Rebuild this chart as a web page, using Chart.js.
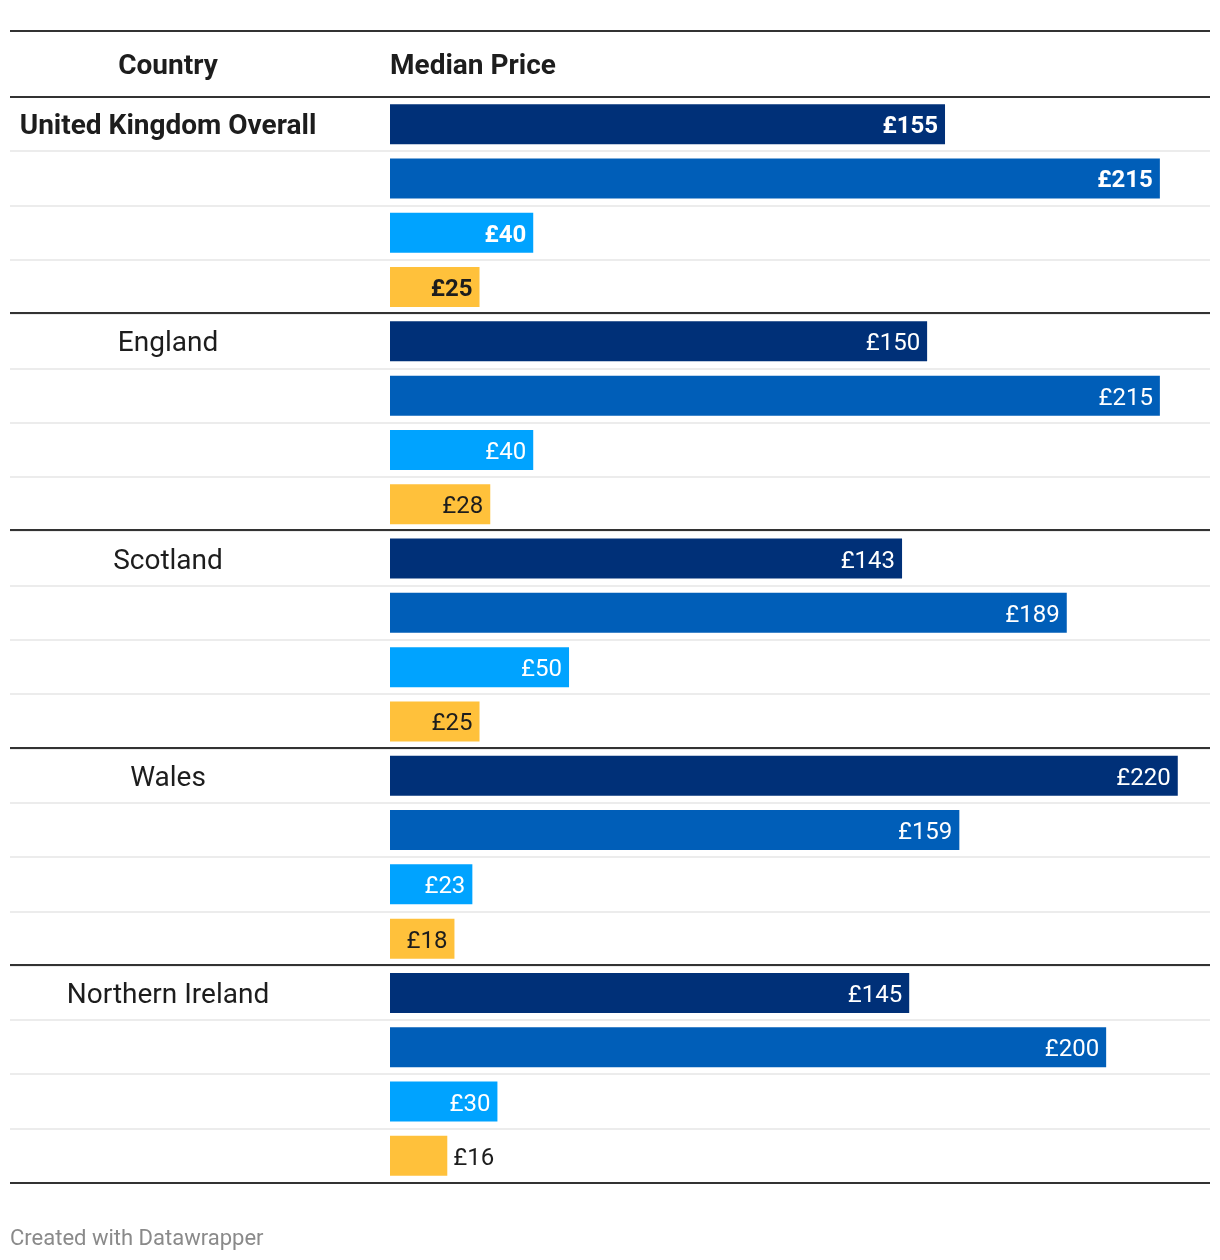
<!DOCTYPE html>
<html>
<head>
<meta charset="utf-8">
<script src="https://cdn.jsdelivr.net/npm/chart.js@4"></script>
<style>
  html, body { margin: 0; padding: 0; background: #fff; }
  canvas { display: block; }
</style>
</head>
<body>
<canvas id="chart" width="1220" height="1260"></canvas>
<script>
const countries = ['United Kingdom Overall', 'England', 'Scotland', 'Wales', 'Northern Ireland'];
const priceA = [155, 150, 143, 220, 145];
const priceB = [215, 215, 189, 159, 200];
const priceC = [40, 40, 50, 23, 30];
const priceD = [25, 28, 25, 18, 16];
const seriesColors = ['#003078', '#005eb8', '#00a3ff', '#ffc13b'];

const FONT = "Roboto, 'Noto Sans', sans-serif";
const TEXT = '#1d1d1d';

// flatten into one row per bar
const rowLabels = [];
const rowValues = [];
const rowColors = [];
const rowGroup = [];
countries.forEach((c, i) => {
    [priceA, priceB, priceC, priceD].forEach((s, j) => {
        rowLabels.push(c + ' ' + (j + 1));
        rowValues.push(s[i]);
        rowColors.push(seriesColors[j]);
        rowGroup.push(i);
    });
});

const tablePlugin = {
    id: 'tablePlugin',
    beforeDatasetsDraw(chart) {
        const ctx = chart.ctx;
        const y = chart.scales.y;
        const half = (y.getPixelForValue(1) - y.getPixelForValue(0)) / 2;
        ctx.save();

        // header
        ctx.fillStyle = TEXT;
        ctx.font = 'bold 28px ' + FONT;
        ctx.textBaseline = 'middle';
        ctx.textAlign = 'center';
        ctx.fillText('Country', 168, 67);
        ctx.textAlign = 'left';
        ctx.fillText('Median Price', 390, 67);

        // light row separators
        ctx.fillStyle = '#ececec';
        for (let i = 1; i < rowValues.length; i++) {
            const py = Math.round(y.getPixelForValue(i) - half);
            ctx.fillRect(10, py - 1, 1200, 2);
        }

        // dark rules
        ctx.fillStyle = '#333333';
        ctx.fillRect(10, 30, 1200, 2);
        ctx.fillRect(10, 96, 1200, 2);
        for (let g = 1; g < countries.length; g++) {
            const py = Math.round(y.getPixelForValue(g * 4) - half);
            ctx.fillRect(10, py - 2, 1200, 2);
        }
        ctx.fillRect(10, Math.round(y.getPixelForValue(rowValues.length - 1) + half) - 1, 1200, 2);

        // country labels
        ctx.fillStyle = TEXT;
        ctx.textAlign = 'center';
        countries.forEach((c, i) => {
            ctx.font = (i === 0 ? 'bold ' : '') + '28px ' + FONT;
            ctx.fillText(c, 168, y.getPixelForValue(i * 4) + 3);
        });

        // footer
        ctx.fillStyle = '#8a8a8a';
        ctx.font = '22px ' + FONT;
        ctx.textAlign = 'left';
        ctx.fillText('Created with Datawrapper', 10, 1239);
        ctx.restore();
    },
    afterDatasetsDraw(chart) {
        const ctx = chart.ctx;
        const bars = chart.getDatasetMeta(0).data;
        ctx.save();
        ctx.textBaseline = 'middle';
        bars.forEach((bar, i) => {
            const label = '£' + rowValues[i];
            ctx.font = (rowGroup[i] === 0 ? 'bold ' : '') + '24px ' + FONT;
            const w = ctx.measureText(label).width;
            const barW = bar.x - bar.base;
            const yellow = rowColors[i] === seriesColors[3];
            if (barW < w + 22) {
                ctx.fillStyle = TEXT;
                ctx.textAlign = 'left';
                ctx.fillText(label, bar.x + 6, bar.y + 3);
            } else {
                ctx.fillStyle = yellow ? TEXT : '#ffffff';
                ctx.textAlign = 'right';
                ctx.fillText(label, bar.x - 7, bar.y + 3);
            }
        });
        ctx.restore();
    }
};

new Chart(document.getElementById('chart'), {
    type: 'bar',
    data: {
        labels: rowLabels,
        datasets: [{
            data: rowValues,
            backgroundColor: rowColors,
            borderWidth: 0,
            barPercentage: 0.737,
            categoryPercentage: 1
        }]
    },
    options: {
        indexAxis: 'y',
        responsive: false,
        devicePixelRatio: 1,
        animation: false,
        layout: { padding: { left: 390, right: 10, top: 97, bottom: 77 } },
        scales: {
            x: { display: false, min: 0, max: 229 },
            y: { display: false }
        },
        plugins: {
            legend: { display: false },
            tooltip: { enabled: false }
        }
    },
    plugins: [tablePlugin]
});
</script>
</body>
</html>
